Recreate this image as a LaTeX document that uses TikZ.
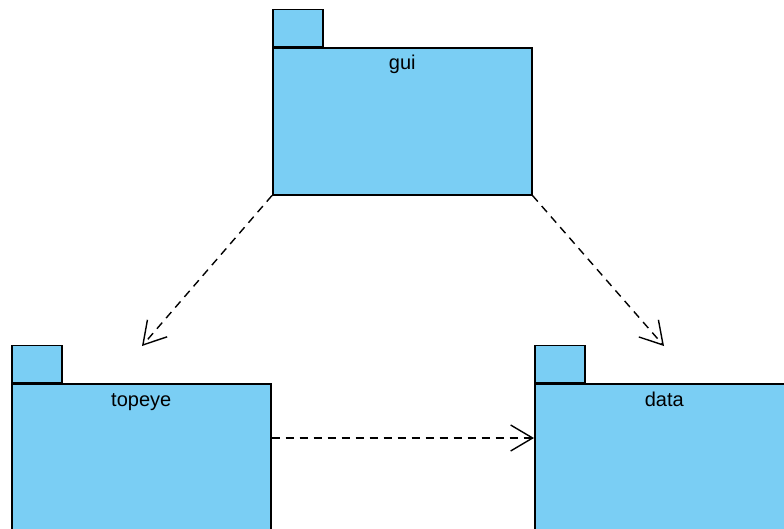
\documentclass[tikz,border=0pt]{standalone}
\usepackage{fontspec}
\setmainfont{Liberation Sans}
\usetikzlibrary{arrows.meta}
\definecolor{pkgfill}{RGB}{122,206,244}
\tikzset{
  pkgbody/.style={draw=black, fill=pkgfill, line width=1.5pt, minimum width=259pt,
    minimum height=147pt, inner sep=0pt, anchor=north west},
  pkgtab/.style={draw=black, fill=pkgfill, line width=1.5pt, minimum width=50pt,
    minimum height=37pt, inner sep=0pt, anchor=south west},
  pkglabel/.style={font=\fontsize{20}{23}\selectfont, anchor=base, inner sep=0pt},
  dep/.style={line width=1.4pt, dash pattern=on 8pt off 6pt,
    -{Straight Barb[length=22pt,width=26pt,line width=1.4pt]}}
}
\begin{document}
\begin{tikzpicture}[x=1pt,y=-1pt]
\useasboundingbox (0,0) rectangle (784,528);
\clip (0,0) rectangle (784,528);
% package gui
\node[pkgbody] (gui) at (272,47) {};
\node[pkgtab] (guitab) at (gui.north west) {};
\node[pkglabel] (guilbl) at ([yshift=-22pt]gui.north) {gui};
% package topeye
\node[pkgbody] (topeye) at (11,383) {};
\node[pkgtab] (topeyetab) at (topeye.north west) {};
\node[pkglabel] (topeyelbl) at ([yshift=-23pt]topeye.north) {topeye};
% package data
\node[pkgbody] (data) at (534,383) {};
\node[pkgtab] (datatab) at (data.north west) {};
\node[pkglabel] (datalbl) at ([yshift=-23pt]data.north) {data};
% dependency ends
\coordinate (toTopeye) at (142,346);
\coordinate (toData) at (664,346);
% dependencies
\draw[dep] (gui.south west) -- (toTopeye);
\draw[dep] (gui.south east) -- (toData);
\draw[dep] (topeye.east |- 0,438) -- (data.west |- 0,438);
\end{tikzpicture}
\end{document}
